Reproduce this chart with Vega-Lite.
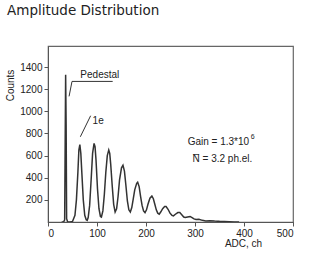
{
  "$schema": "https://vega.github.io/schema/vega-lite/v6.json",
  "autosize": "none",
  "width": 245,
  "height": 176,
  "padding": {"left": 48, "top": 46, "right": 31, "bottom": 34},
  "background": "white",
  "title": {"text": "Amplitude Distribution", "anchor": "start", "frame": "group", "dx": -41, "offset": 18, "baseline": "alphabetic", "font": "DejaVu Sans", "fontSize": 13.5, "fontWeight": "normal", "color": "#222"},
  "config": {
    "view": {"stroke": "#666", "strokeWidth": 1.2},
    "axis": {"labelFont": "Liberation Sans", "labelFontSize": 10, "labelColor": "#222", "titleFont": "Liberation Sans", "titleFontSize": 10, "titleFontWeight": "normal", "titleColor": "#222", "domainColor": "#555", "tickColor": "#555", "grid": false, "tickSize": 4}
  },
  "datasets": {
    "spectrum": [
      {"adc": 28, "counts": 0}, {"adc": 32, "counts": 2}, {"adc": 34, "counts": 20}, {"adc": 36, "counts": 1330}, {"adc": 37, "counts": 880}, {"adc": 38, "counts": 30}, {"adc": 40, "counts": 2},
      {"adc": 45, "counts": 0}, {"adc": 50, "counts": 5}, {"adc": 55, "counts": 60}, {"adc": 58, "counts": 200}, {"adc": 61, "counts": 450}, {"adc": 63, "counts": 650}, {"adc": 65, "counts": 700}, {"adc": 67, "counts": 620}, {"adc": 69, "counts": 450}, {"adc": 72, "counts": 200}, {"adc": 75, "counts": 60}, {"adc": 78, "counts": 20}, {"adc": 80, "counts": 15},
      {"adc": 82, "counts": 40}, {"adc": 85, "counts": 150}, {"adc": 88, "counts": 380}, {"adc": 91, "counts": 620}, {"adc": 94, "counts": 710}, {"adc": 96, "counts": 680}, {"adc": 98, "counts": 560}, {"adc": 101, "counts": 300}, {"adc": 104, "counts": 120}, {"adc": 107, "counts": 50}, {"adc": 109, "counts": 45},
      {"adc": 112, "counts": 100}, {"adc": 115, "counts": 250}, {"adc": 118, "counts": 450}, {"adc": 121, "counts": 600}, {"adc": 124, "counts": 650}, {"adc": 126, "counts": 620}, {"adc": 128, "counts": 520}, {"adc": 131, "counts": 330}, {"adc": 134, "counts": 160}, {"adc": 137, "counts": 90},
      {"adc": 140, "counts": 120}, {"adc": 143, "counts": 230}, {"adc": 146, "counts": 380}, {"adc": 150, "counts": 490}, {"adc": 153, "counts": 513}, {"adc": 156, "counts": 460}, {"adc": 159, "counts": 330}, {"adc": 162, "counts": 190}, {"adc": 165, "counts": 110}, {"adc": 168, "counts": 90},
      {"adc": 171, "counts": 130}, {"adc": 174, "counts": 210}, {"adc": 177, "counts": 290}, {"adc": 181, "counts": 350}, {"adc": 183, "counts": 360}, {"adc": 186, "counts": 320}, {"adc": 189, "counts": 230}, {"adc": 192, "counts": 150}, {"adc": 195, "counts": 100}, {"adc": 198, "counts": 85},
      {"adc": 201, "counts": 110}, {"adc": 204, "counts": 160}, {"adc": 208, "counts": 215}, {"adc": 212, "counts": 234}, {"adc": 215, "counts": 210}, {"adc": 218, "counts": 160}, {"adc": 221, "counts": 110}, {"adc": 224, "counts": 80}, {"adc": 227, "counts": 70},
      {"adc": 230, "counts": 90}, {"adc": 234, "counts": 120}, {"adc": 238, "counts": 140}, {"adc": 241, "counts": 140}, {"adc": 245, "counts": 115}, {"adc": 249, "counts": 80}, {"adc": 253, "counts": 60}, {"adc": 256, "counts": 55},
      {"adc": 260, "counts": 70}, {"adc": 265, "counts": 85}, {"adc": 269, "counts": 85}, {"adc": 273, "counts": 65}, {"adc": 277, "counts": 45}, {"adc": 280, "counts": 40},
      {"adc": 285, "counts": 45}, {"adc": 290, "counts": 50}, {"adc": 294, "counts": 40}, {"adc": 298, "counts": 28}, {"adc": 302, "counts": 22},
      {"adc": 308, "counts": 25}, {"adc": 315, "counts": 15}, {"adc": 322, "counts": 10}, {"adc": 330, "counts": 12}, {"adc": 340, "counts": 8}, {"adc": 350, "counts": 6}, {"adc": 360, "counts": 5}, {"adc": 370, "counts": 3}, {"adc": 380, "counts": 1}, {"adc": 390, "counts": 0}
    ],
    "leaders": [
      {"x": 49, "y": 1270, "x2": 132, "y2": 1270},
      {"x": 49, "y": 1270, "x2": 43, "y2": 1135},
      {"x": 87, "y": 960, "x2": 66, "y2": 770}
    ],
    "labels": [
      {"x": 66, "y": 1330, "text": "Pedestal"},
      {"x": 91, "y": 910, "text": "1e"},
      {"x": 285, "y": 725, "text": "Gain = 1.3*10"},
      {"x": 295, "y": 565, "text": "N̅ = 3.2 ph.el."}
    ],
    "sup": [
      {"x": 414, "y": 770, "text": "6"}
    ]
  },
  "layer": [
    {
      "data": {"name": "spectrum"},
      "mark": {"type": "line", "color": "#333", "strokeWidth": 1.5, "clip": true},
      "encoding": {
        "x": {"field": "adc", "type": "quantitative", "scale": {"domain": [0, 500], "nice": false}, "axis": {"values": [0, 100, 200, 300, 400, 500], "tickCount": 20, "format": "d", "labelOverlap": false, "title": "ADC, ch", "titleX": 195, "titleY": 24, "titleBaseline": "alphabetic", "labelPadding": 2}},
        "y": {"field": "counts", "type": "quantitative", "scale": {"domain": [0, 1590], "nice": false}, "axis": {"values": [200, 400, 600, 800, 1000, 1200, 1400], "tickCount": 20, "format": "d", "labelOverlap": false, "labelBound": false, "title": "Counts", "titleX": -33, "titleY": 39, "titleAlign": "center", "labelPadding": 2}}
      }
    },
    {
      "data": {"name": "leaders"},
      "mark": {"type": "rule", "color": "#333", "strokeWidth": 1},
      "encoding": {
        "x": {"field": "x", "type": "quantitative"},
        "y": {"field": "y", "type": "quantitative"},
        "x2": {"field": "x2"},
        "y2": {"field": "y2"}
      }
    },
    {
      "data": {"name": "labels"},
      "mark": {"type": "text", "align": "left", "baseline": "middle", "font": "Liberation Sans", "fontSize": 10, "color": "#222"},
      "encoding": {
        "x": {"field": "x", "type": "quantitative"},
        "y": {"field": "y", "type": "quantitative"},
        "text": {"field": "text"}
      }
    },
    {
      "data": {"name": "sup"},
      "mark": {"type": "text", "align": "left", "baseline": "middle", "font": "Liberation Sans", "fontSize": 7, "color": "#222"},
      "encoding": {
        "x": {"field": "x", "type": "quantitative"},
        "y": {"field": "y", "type": "quantitative"},
        "text": {"field": "text"}
      }
    }
  ]
}
